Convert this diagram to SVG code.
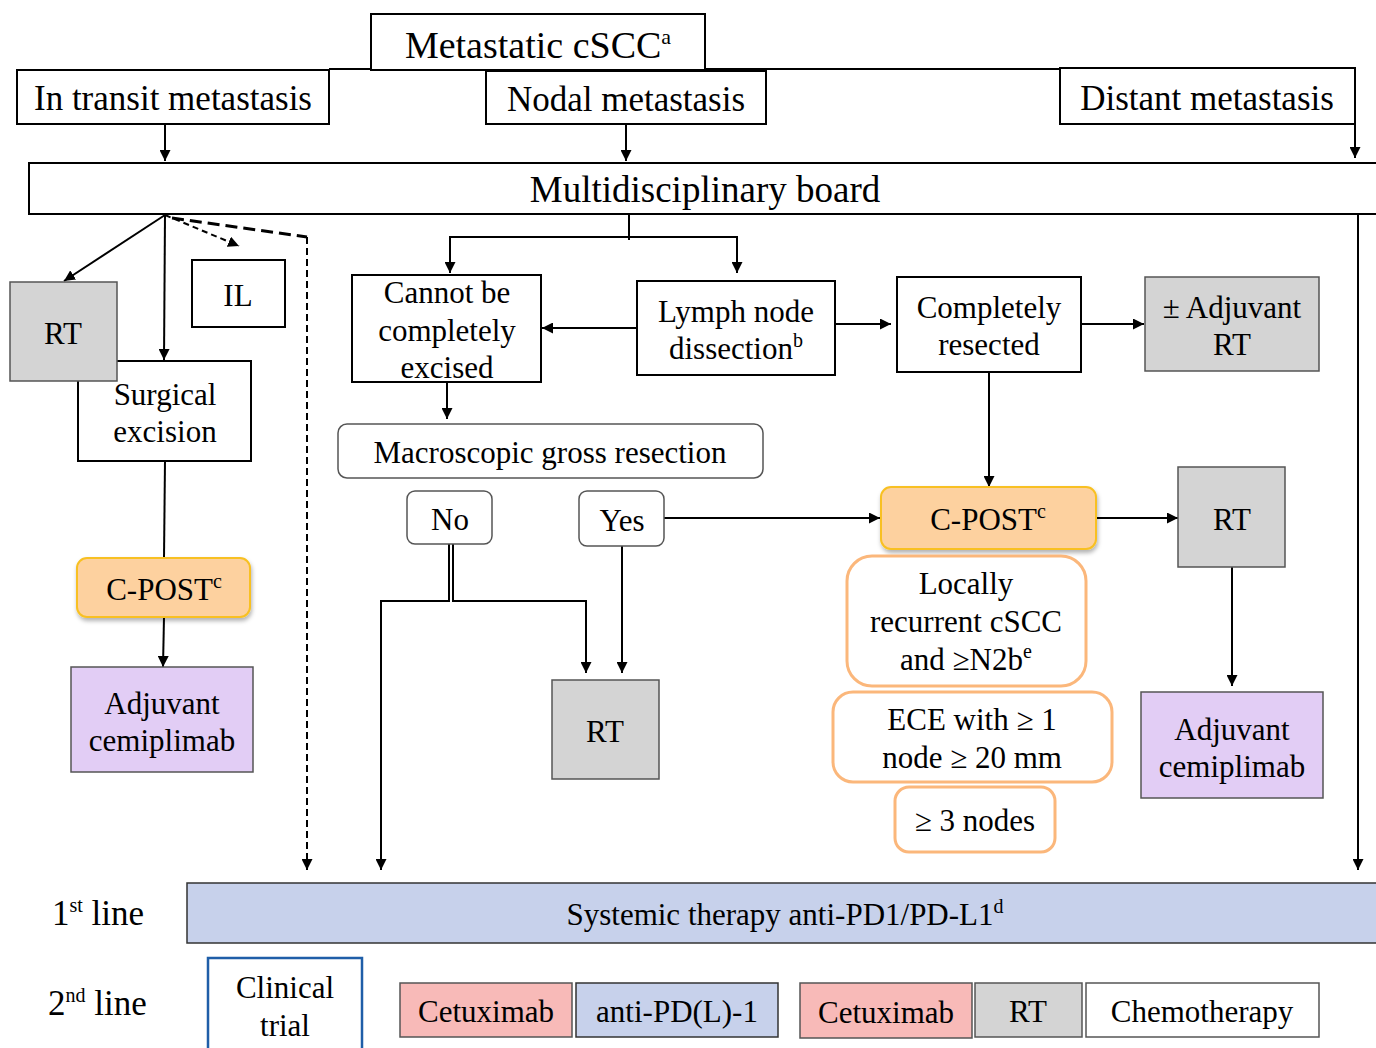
<svg xmlns="http://www.w3.org/2000/svg" width="1376" height="1048" viewBox="0 0 1376 1048">
<defs>
<marker id="ah" viewBox="0 0 10 10" refX="10" refY="5" markerWidth="11" markerHeight="11" markerUnits="userSpaceOnUse" orient="auto"><path d="M0,0 L10,5 L0,10 z" fill="#000"/></marker>
<filter id="sh" x="-10%" y="-10%" width="130%" height="140%"><feDropShadow dx="1" dy="3" stdDeviation="2" flood-color="#000" flood-opacity="0.3"/></filter>
<style>
text{font-family:"Liberation Serif","Times New Roman",serif;fill:#000;text-anchor:middle}
.t35{font-size:35px}
.t31{font-size:31px}
.sup{font-size:20px}
.box{fill:#fff;stroke:#000;stroke-width:2}
.grey{fill:#d4d4d4;stroke:#555;stroke-width:1.5}
.lav{fill:#e2cdf5;stroke:#555;stroke-width:1.5}
.cpost{fill:#fdd19f;stroke:#f8c022;stroke-width:2}
.crit{fill:#fff;stroke:#fbb77b;stroke-width:3}
.rnd{fill:#fff;stroke:#555;stroke-width:1.5}
.blue{fill:#c7d1eb;stroke:#333;stroke-width:1.5}
.pink{fill:#f8bab8;stroke:#555;stroke-width:1.5}
.ln{fill:none;stroke:#000;stroke-width:2}
.arr{fill:none;stroke:#000;stroke-width:2;marker-end:url(#ah)}
</style>
</defs>

<g id="connectors">
<line class="ln" x1="329" y1="69" x2="1060" y2="69"/>
<line class="arr" x1="165" y1="124" x2="165" y2="161"/>
<line class="arr" x1="626" y1="124" x2="626" y2="161"/>
<line class="arr" x1="1355" y1="124" x2="1355" y2="158"/>
<line class="arr" x1="1358" y1="214" x2="1358" y2="870"/>
<line class="arr" x1="165" y1="215" x2="64" y2="281"/>
<line class="arr" x1="165" y1="215" x2="164" y2="360"/>
<line class="arr" x1="165" y1="215" x2="239" y2="246" stroke-dasharray="6 4"/>
<polyline fill="none" stroke="#000" stroke-width="3" stroke-dasharray="12 6" points="172,218 307,237"/>
<line class="arr" x1="307" y1="237" x2="307" y2="870" stroke-dasharray="7 4"/>
<line class="ln" x1="165" y1="461" x2="164" y2="558"/>
<line class="arr" x1="164" y1="617" x2="163" y2="667"/>
<polyline class="ln" points="629,214 629,240"/>
<polyline class="ln" points="450,240 450,237 737,237 737,240"/>
<line class="arr" x1="450" y1="237" x2="450" y2="273"/>
<line class="arr" x1="737" y1="237" x2="737" y2="273"/>
<line class="arr" x1="637" y1="328" x2="542" y2="328"/>
<line class="arr" x1="835" y1="324" x2="891" y2="324"/>
<line class="arr" x1="1081" y1="324" x2="1144" y2="324"/>
<line class="arr" x1="447" y1="382" x2="447" y2="419"/>
<polyline class="arr" points="449,544 449,601 381,601 381,870"/>
<polyline class="arr" points="453,544 453,601 586,601 586,673"/>
<line class="arr" x1="622" y1="546" x2="622" y2="673"/>
<line class="arr" x1="664" y1="518" x2="880" y2="518"/>
<line class="arr" x1="989" y1="372" x2="989" y2="487"/>
<line class="arr" x1="1096" y1="518" x2="1178" y2="518"/>
<line class="arr" x1="1232" y1="567" x2="1232" y2="686"/>
</g>

<g id="metastatic"><rect class="box" x="371" y="14" width="334" height="56"/><text x="538" y="58" style="font-size:38px">Metastatic cSCC<tspan style="font-size:22px" dy="-14">a</tspan></text></g>
<g id="in-transit"><rect class="box" x="17" y="70" width="312" height="54"/><text class="t35" x="173" y="110">In transit metastasis</text></g>
<g id="nodal"><rect class="box" x="486" y="71" width="280" height="53"/><text class="t35" x="626" y="111">Nodal metastasis</text></g>
<g id="distant"><rect class="box" x="1060" y="68" width="295" height="56"/><text class="t35" x="1207" y="110">Distant metastasis</text></g>
<g id="board"><rect class="box" x="29" y="163" width="1360" height="51"/><text x="705" y="202" style="font-size:37px">Multidisciplinary board</text></g>

<g id="surgical"><rect class="box" x="78" y="361" width="173" height="100"/><text class="t31" x="165" y="405">Surgical</text><text class="t31" x="165" y="442">excision</text></g>
<g id="rt-left"><rect class="grey" x="10" y="282" width="107" height="99"/><text class="t31" x="63" y="344">RT</text></g>
<g id="il"><rect class="box" x="192" y="260" width="93" height="67"/><text class="t31" x="238" y="306">IL</text></g>
<g id="cpost-left"><rect class="cpost" filter="url(#sh)" x="77" y="558" width="173" height="59" rx="10"/><text class="t31" x="164" y="600">C-POST<tspan class="sup" dy="-12">c</tspan></text></g>
<g id="adj-left"><rect class="lav" x="71" y="667" width="182" height="105"/><text class="t31" x="162" y="714">Adjuvant</text><text class="t31" x="162" y="751">cemiplimab</text></g>

<g id="cannot"><rect class="box" x="352" y="275" width="189" height="107"/><text class="t31" x="447" y="303">Cannot be</text><text class="t31" x="447" y="341">completely</text><text class="t31" x="447" y="378">excised</text></g>
<g id="lymph"><rect class="box" x="637" y="281" width="198" height="94"/><text class="t31" x="736" y="322">Lymph node</text><text class="t31" x="736" y="359">dissection<tspan class="sup" dy="-12">b</tspan></text></g>
<g id="completely"><rect class="box" x="897" y="277" width="184" height="95"/><text class="t31" x="989" y="318">Completely</text><text class="t31" x="989" y="355">resected</text></g>
<g id="adj-rt"><rect class="grey" x="1145" y="277" width="174" height="94"/><text class="t31" x="1232" y="318">± Adjuvant</text><text class="t31" x="1232" y="355">RT</text></g>
<g id="macro"><rect class="rnd" x="338" y="424" width="425" height="54" rx="9"/><text class="t31" x="550" y="463">Macroscopic gross resection</text></g>
<g id="no"><rect class="rnd" x="407" y="491" width="85" height="53" rx="8"/><text class="t31" x="450" y="530">No</text></g>
<g id="yes"><rect class="rnd" x="579" y="491" width="85" height="55" rx="8"/><text class="t31" x="622" y="531">Yes</text></g>
<g id="rt-mid"><rect class="grey" x="552" y="680" width="107" height="99"/><text class="t31" x="605" y="742">RT</text></g>

<g id="cpost-mid"><rect class="cpost" filter="url(#sh)" x="881" y="487" width="215" height="62" rx="10"/><text class="t31" x="988" y="530">C-POST<tspan class="sup" dy="-12">c</tspan></text></g>
<g id="rt-right"><rect class="grey" x="1178" y="467" width="107" height="100"/><text class="t31" x="1232" y="530">RT</text></g>
<g id="locally"><rect class="crit" x="847" y="556" width="239" height="130" rx="25"/><text class="t31" x="966" y="594">Locally</text><text class="t31" x="966" y="632">recurrent cSCC</text><text class="t31" x="966" y="670">and ≥N2b<tspan class="sup" dy="-12">e</tspan></text></g>
<g id="ece"><rect class="crit" x="833" y="692" width="279" height="90" rx="20"/><text class="t31" x="972" y="730">ECE with ≥ 1</text><text class="t31" x="972" y="768">node ≥ 20 mm</text></g>
<g id="nodes3"><rect class="crit" x="895" y="787" width="160" height="65" rx="14"/><text class="t31" x="975" y="831">≥ 3 nodes</text></g>
<g id="adj-right"><rect class="lav" x="1141" y="692" width="182" height="106"/><text class="t31" x="1232" y="740">Adjuvant</text><text class="t31" x="1232" y="777">cemiplimab</text></g>

<g id="line1"><text class="t35" x="52" y="925" style="text-anchor:start">1<tspan class="sup" dy="-13">st</tspan><tspan dy="13"> line</tspan></text></g>
<g id="systemic"><rect class="blue" x="187" y="883" width="1200" height="60"/><text class="t31" x="785" y="925">Systemic therapy anti-PD1/PD-L1<tspan class="sup" dy="-12">d</tspan></text></g>
<g id="line2"><text class="t35" x="48" y="1015" style="text-anchor:start">2<tspan class="sup" dy="-13">nd</tspan><tspan dy="13"> line</tspan></text></g>
<g id="trial"><rect x="208" y="958" width="154" height="100" fill="#fff" stroke="#1f5ea8" stroke-width="2.5"/><text class="t31" x="285" y="998">Clinical</text><text class="t31" x="285" y="1036">trial</text></g>
<g id="cetux1"><rect class="pink" x="400" y="983" width="172" height="54"/><text class="t31" x="486" y="1022">Cetuximab</text></g>
<g id="antipd"><rect class="blue" x="576" y="983" width="202" height="54"/><text class="t31" x="677" y="1022">anti-PD(L)-1</text></g>
<g id="cetux2"><rect class="pink" x="800" y="983" width="172" height="55"/><text class="t31" x="886" y="1023">Cetuximab</text></g>
<g id="rt-2nd"><rect class="grey" x="975" y="983" width="107" height="54"/><text class="t31" x="1028" y="1022">RT</text></g>
<g id="chemo"><rect x="1086" y="983" width="233" height="54" fill="#fff" stroke="#555" stroke-width="1.5"/><text class="t31" x="1202" y="1022">Chemotherapy</text></g>
</svg>
